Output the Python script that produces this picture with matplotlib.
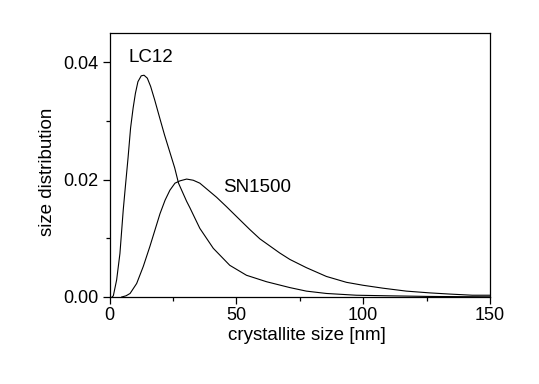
#!/usr/bin/env python3
# crystallite size distributions, LC12 vs SN1500
import matplotlib
matplotlib.use("Agg")
import matplotlib.pyplot as plt
from matplotlib.ticker import MultipleLocator

plt.rcParams["font.family"] = ["Liberation Sans", "DejaVu Sans"]

# values
lc12_x = [1.0, 1.5, 2.8, 4.1, 5.4, 6.2, 7.3, 8.3, 9.3, 10.2, 11.2, 12.5, 13.6,
          14.9, 16.2, 17.8, 19.8, 21.7, 23.7, 25.7, 27.2, 30.4, 31.7, 33.7,
          35.6, 40.9, 47.4, 54.0, 61.9, 71.1, 77.6, 85.5, 97.3, 110, 125,
          140, 150]
lc12_y = [0.0, 0.0002, 0.0029, 0.0074, 0.0148, 0.0186, 0.0237, 0.0288, 0.0322,
          0.0347, 0.0367, 0.0377, 0.0378, 0.0373, 0.0359, 0.0336, 0.0305,
          0.0276, 0.0248, 0.0220, 0.0194, 0.0163, 0.0152, 0.0134, 0.0117,
          0.0083, 0.0054, 0.0037, 0.0026, 0.0016, 0.0010, 0.0006, 0.0003,
          0.0002, 0.0001, 0.00005, 0.00003]

sn_x = [4.8, 6.5, 8.1, 10.7, 13.3, 15.9, 17.9, 19.9, 21.9, 23.8, 25.8, 27.8,
        30.4, 33.0, 35.6, 38.9, 42.2, 46.1, 50.1, 55.3, 59.3, 63.2, 67.1,
        71.1, 77.6, 85.5, 93.4, 99.9, 107.8, 117, 126.2, 134, 143, 150]
sn_y = [0.0, 0.0002, 0.0006, 0.0023, 0.0052, 0.0086, 0.0114, 0.0142, 0.0165,
        0.0182, 0.0194, 0.0198, 0.0201, 0.0199, 0.0194, 0.0182, 0.0170,
        0.0154, 0.0137, 0.0115, 0.0099, 0.0087, 0.0075, 0.0064, 0.0050,
        0.0035, 0.0025, 0.0020, 0.0015, 0.0010, 0.0007, 0.0005, 0.0003,
        0.0003]

fig = plt.figure(figsize=(5.39, 3.84), dpi=100)
ax = fig.add_axes([0.2032, 0.2266, 0.7059, 0.6875])

ax.plot(lc12_x, lc12_y, color="black", lw=0.8)
ax.plot(sn_x, sn_y, color="black", lw=0.8)

ax.text(7.3, 0.0408, "LC12", fontsize=13.5, va="center", ha="left")
ax.text(44.7, 0.0187, "SN1500", fontsize=13.5, va="center", ha="left")

ax.set_xlim(0, 150)
ax.set_ylim(0, 0.045)
ax.xaxis.set_major_locator(MultipleLocator(50))
ax.xaxis.set_minor_locator(MultipleLocator(25))
ax.yaxis.set_major_locator(MultipleLocator(0.02))
ax.yaxis.set_minor_locator(MultipleLocator(0.01))
ax.yaxis.set_major_formatter(lambda v, p: f"{v:.2f}")

ax.tick_params(which="major", direction="out", length=5, width=0.9,
               labelsize=13, pad=3)
ax.tick_params(axis="x", which="major", pad=2)
ax.tick_params(which="minor", direction="out", length=3, width=0.9)
for s in ax.spines.values():
    s.set_linewidth(0.9)

ax.set_xlabel("crystallite size [nm]", fontsize=13.5)
ax.set_ylabel("size distribution", fontsize=13.5)
ax.xaxis.set_label_coords(0.52, -0.115)
ax.yaxis.set_label_coords(-0.141, 0.475)

fig.savefig("out.png", dpi=100)
